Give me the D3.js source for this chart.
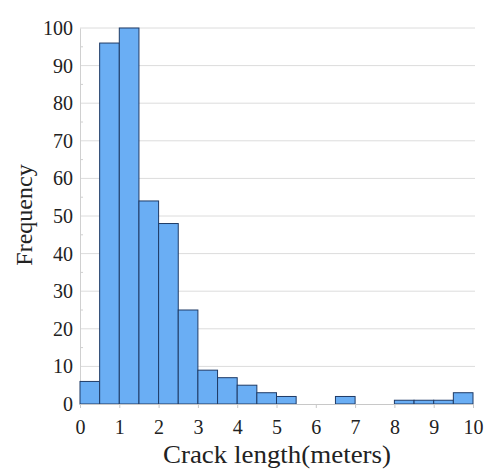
<!DOCTYPE html>
<html><head><meta charset="utf-8">
<script src="https://cdn.jsdelivr.net/npm/d3@7"></script>
<style>body{margin:0;background:#fff}svg{display:block}</style>
</head><body>
<script>
const binStarts = [0,0.5,1,1.5,2,2.5,3,3.5,4,4.5,5,5.5,6,6.5,7,7.5,8,8.5,9,9.5];
const binWidth = 0.5;
const frequencies = [6,96,100,54,48,25,9,7,5,3,2,0,0,2,0,0,1,1,1,3];
const xTicks = [0,1,2,3,4,5,6,7,8,9,10];
const yTicks = [0,10,20,30,40,50,60,70,80,90,100];
const xLabel = "Crack length(meters)";
const yLabel = "Frequency";

const W = 485, H = 469;
const FONT = "Liberation Serif, Times, serif";
const svg = d3.select("body").append("svg").attr("width", W).attr("height", H)
  .attr("font-family", FONT);
const x = d3.scaleLinear().domain([0,10]).range([80,473]);
const y = d3.scaleLinear().domain([0,100]).range([404,28]);

// gridlines
svg.append("g").selectAll("line").data(yTicks.filter(d=>d>0)).join("line")
  .attr("x1",x(0)).attr("x2",x(10)+2).attr("y1",d=>y(d)).attr("y2",d=>y(d))
  .attr("stroke","#dcdcdc").attr("stroke-width",1);

// y axis
const yAxis = svg.append("g").attr("transform",`translate(${x(0)},0)`)
  .call(d3.axisLeft(y).tickValues(yTicks).tickSize(0).tickPadding(7));
yAxis.attr("font-family", FONT).attr("font-size", 20);
yAxis.select(".domain").attr("stroke","#d0d0d0");
yAxis.selectAll("text").attr("font-family", FONT).attr("fill","#222");
// minor ticks
svg.append("g").selectAll("line").data(d3.range(5,100,10)).join("line")
  .attr("x1",x(0)).attr("x2",x(0)+3).attr("y1",d=>y(d)).attr("y2",d=>y(d))
  .attr("stroke","#d0d0d0");

// bars
svg.append("g").selectAll("rect").data(binStarts.map((s,i)=>({s,v:frequencies[i]})).filter(d=>d.v>0)).join("rect")
  .attr("x",d=>x(d.s)).attr("width",d=>x(d.s+binWidth)-x(d.s))
  .attr("y",d=>y(d.v)).attr("height",d=>y(0)-y(d.v))
  .attr("fill","#6aaef4").attr("stroke","#1f3b66").attr("stroke-width",1);

// x axis
const xAxis = svg.append("g").attr("transform",`translate(0,${y(0)})`)
  .call(d3.axisBottom(x).tickValues(xTicks).tickSize(4).tickPadding(12));
xAxis.attr("font-family", FONT).attr("font-size", 20);
xAxis.select(".domain").attr("stroke","#c8c8c8");
xAxis.selectAll(".tick line").attr("stroke","#c8c8c8");
xAxis.selectAll("text").attr("font-family", FONT).attr("fill","#222");

svg.append("text").attr("x",277).attr("y",463).attr("text-anchor","middle")
  .attr("font-family", FONT).attr("font-size",25).attr("fill","#222")
  .attr("textLength",228).attr("lengthAdjust","spacingAndGlyphs").text(xLabel);
svg.append("text").attr("transform","translate(32,215) rotate(-90)").attr("text-anchor","middle")
  .attr("font-family", FONT).attr("font-size",24).attr("fill","#222").text(yLabel);
</script>
</body></html>
